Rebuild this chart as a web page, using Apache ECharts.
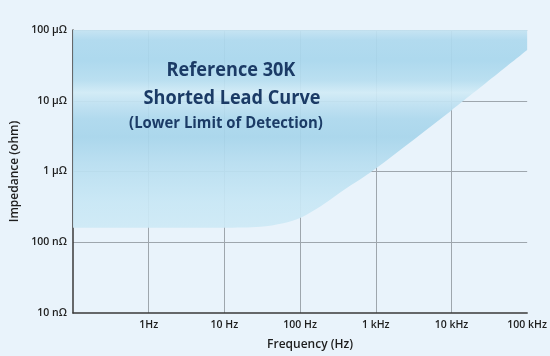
<!DOCTYPE html>
<html><head><meta charset="utf-8">
<script src="https://cdn.jsdelivr.net/npm/echarts@6/dist/echarts.min.js"></script>
<style>html,body{margin:0;padding:0;background:#e9f3fb}#c{width:550px;height:356px}</style>
</head><body><div id="c"></div>
<script>
// Data
const freqHz = [0.1, 1, 10, 30, 60, 100, 200, 400, 700, 1000, 10000, 100000];
const impedanceOhm = [1.6e-7, 1.6e-7, 1.6e-7, 1.65e-7, 1.85e-7, 2.2e-7, 3.4e-7, 5.7e-7, 8.4e-7, 1.1e-6, 7.3e-6, 5.2e-5];
const xTickLabels = {'-1': '', '0': '1Hz', '1': '10 Hz', '2': '100 Hz', '3': '1 kHz', '4': '10 kHz', '5': '100 kHz'};
const yTickLabels = {'-8': '10 nΩ', '-7': '100 nΩ', '-6': '1 μΩ', '-5': '10 μΩ', '-4': '100 μΩ'};
const titleLines = ['Reference 30K', 'Shorted Lead Curve', '(Lower Limit of Detection)'];

const chart = echarts.init(document.getElementById('c'), null, {renderer: 'canvas'});
const FONT = '"Open Sans", "Noto Sans", sans-serif';
const txt = '#1e1e1e';
const fillGrad = {
  type: 'linear', x: 0, y: 30, x2: 0, y2: 232, global: true,
  colorStops: [
    {offset: 0, color: '#c4e3f2'},
    {offset: 0.05, color: '#aed9ee'},
    {offset: 0.15, color: '#a9d7ed'},
    {offset: 0.25, color: '#b7def0'},
    {offset: 0.31, color: '#d1ebf6'},
    {offset: 0.36, color: '#c1e2f2'},
    {offset: 0.44, color: '#add8ed'},
    {offset: 0.53, color: '#a7d5eb'},
    {offset: 0.66, color: '#b8def0'},
    {offset: 0.85, color: '#c8e7f5'},
    {offset: 1, color: '#cfeaf6'}
  ]
};

chart.setOption({
  backgroundColor: '#e9f3fb',
  animation: false,
  grid: {left: 73, right: 22, top: 30, bottom: 40},
  xAxis: {
    type: 'log', logBase: 10, min: 0.1, max: 100000,
    name: 'Frequency (Hz)', nameLocation: 'middle', nameGap: 26,
    nameTextStyle: {fontFamily: FONT, fontSize: 12, fontWeight: 600, color: txt, padding: [0, 0, 0, 20]},
    axisLine: {show: true, onZero: false, lineStyle: {color: '#3a3a3a', width: 1.5}},
    axisTick: {show: false},
    axisLabel: {
      fontFamily: FONT, fontSize: 10.5, fontWeight: 600, color: txt, margin: 7,
      showMinLabel: false,
      formatter: v => xTickLabels[String(Math.round(Math.log10(v)))] || ''
    },
    splitLine: {show: true, showMinLine: false, showMaxLine: false, lineStyle: {color: '#9ea6ad', width: 1}}
  },
  yAxis: {
    type: 'log', logBase: 10, min: 1e-8, max: 1e-4,
    name: 'Impedance (ohm)', nameLocation: 'middle', nameGap: 45, nameRotate: 90,
    nameTextStyle: {fontFamily: FONT, fontSize: 12, fontWeight: 600, color: txt},
    axisLine: {show: true, onZero: false, lineStyle: {color: '#3a3a3a', width: 1.5}},
    axisTick: {show: false},
    axisLabel: {
      fontFamily: FONT, fontSize: 10.5, fontWeight: 600, color: txt, margin: 6,
      formatter: v => yTickLabels[String(Math.round(Math.log10(v)))] || ''
    },
    splitLine: {show: true, showMinLine: false, showMaxLine: false, lineStyle: {color: '#9ea6ad', width: 1}}
  },
  series: [{
    type: 'line',
    data: freqHz.map((f, i) => [f, impedanceOhm[i]]),
    smooth: 0.3,
    symbol: 'none',
    lineStyle: {width: 0, opacity: 0},
    areaStyle: {origin: 'end', color: fillGrad, opacity: 0.93},
    z: 5
  }]
});

const centers = [231, 232, 226];
const sizes = [19.5, 19.5, 16];
const tops = [60, 88, 115];
const g = titleLines.map((t, i) => ({
  type: 'text', z: 100, x: centers[i], y: tops[i], scaleX: 0.93, originX: 0,
  style: {text: t, fontFamily: FONT, fontSize: sizes[i], fontWeight: 'bold', fill: '#1b3b66', align: 'center', verticalAlign: 'top'}
}));
chart.setOption({graphic: g});
</script></body></html>
